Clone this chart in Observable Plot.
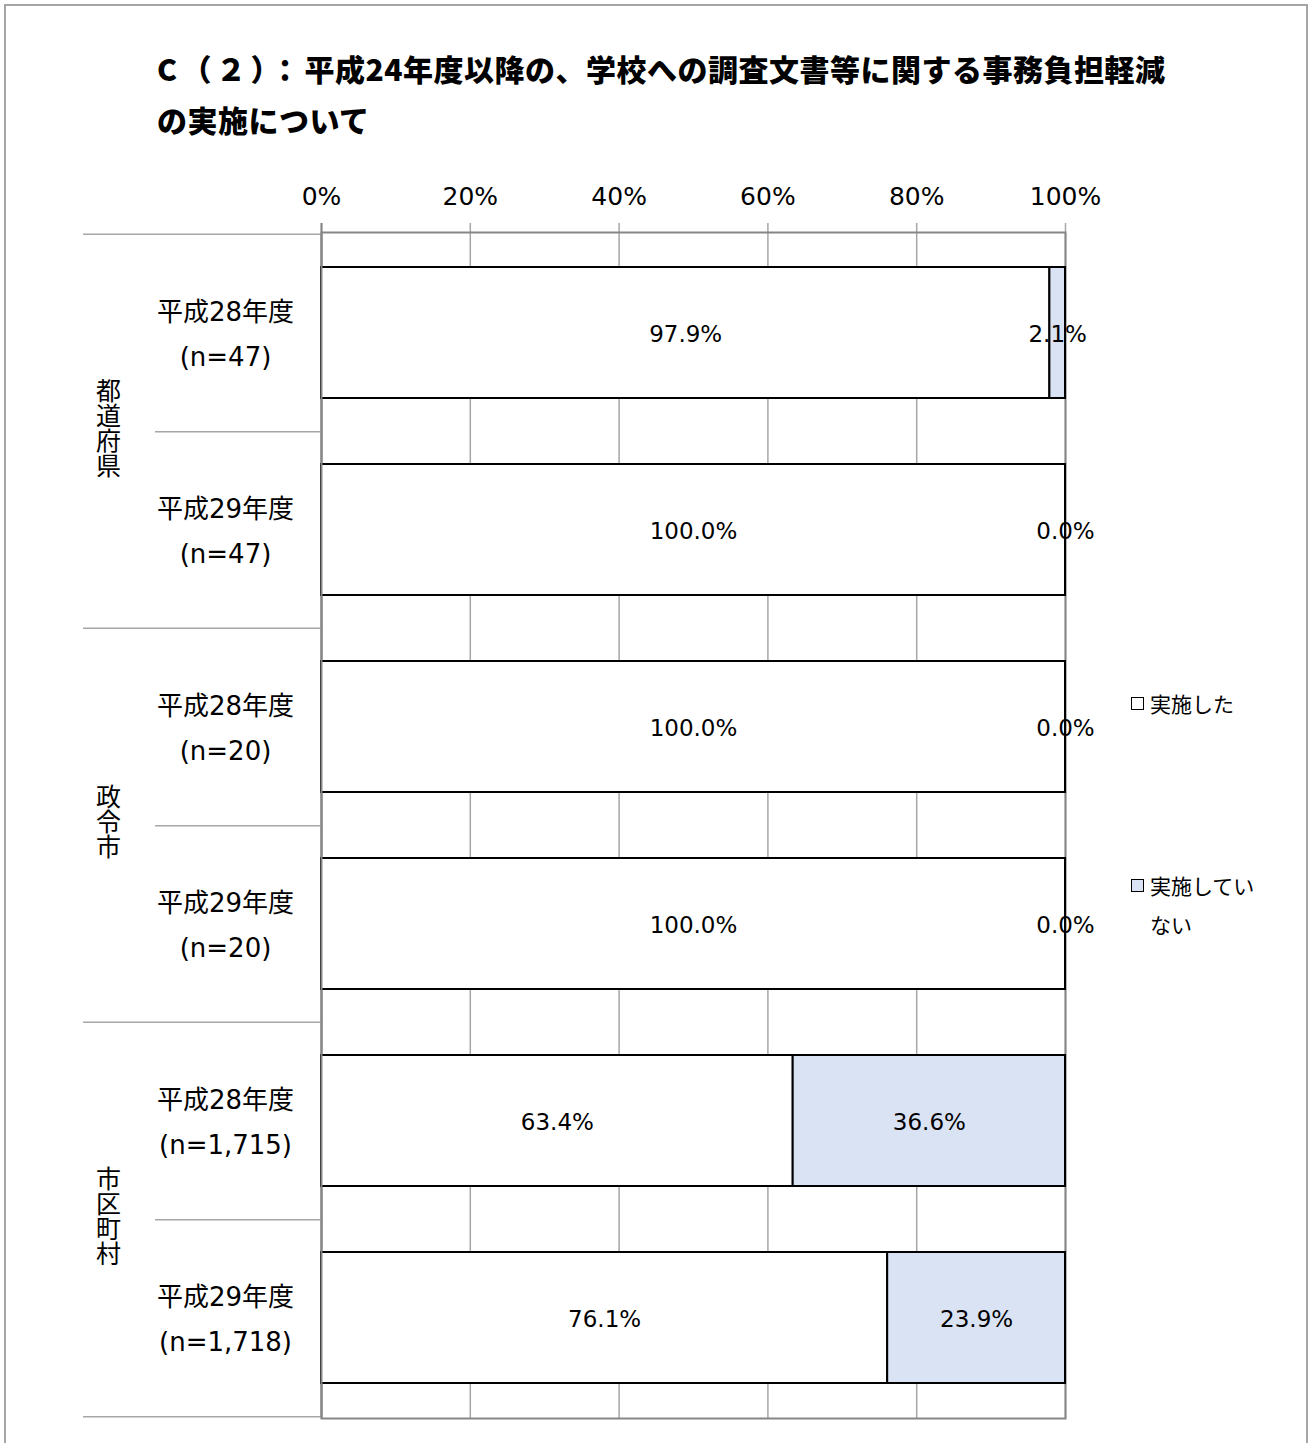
<!DOCTYPE html>
<html><head><meta charset="utf-8">
<script src="https://cdn.jsdelivr.net/npm/d3@7"></script>
<script src="https://cdn.jsdelivr.net/npm/@observablehq/plot@0.6"></script>
<style>
body{margin:0;background:#fff;}
#wrap{position:relative;width:1311px;height:1443px;overflow:hidden;background:#fff;font-family:"DejaVu Sans","Noto Sans CJK JP",sans-serif;}
#border{position:absolute;left:4px;top:4px;width:1300px;height:1500px;border:2px solid #a6a6a6;}
#title{position:absolute;left:157px;top:43px;font-family:"Noto Sans CJK JP",sans-serif;font-weight:900;font-size:30px;line-height:51px;color:#000;white-space:nowrap;letter-spacing:0.5px;}
#title .pre{letter-spacing:4.5px;}
#chart{position:absolute;left:0;top:0;}
.lg{position:absolute;left:1131px;font-family:"Noto Sans CJK JP",sans-serif;font-size:21px;line-height:39px;color:#000;}
.lg .sw{position:absolute;left:0;top:13px;width:11px;height:11px;border:1.5px solid #000;}
.lg .tx{position:absolute;left:19px;top:0;white-space:nowrap;}
</style>
</head><body>
<div id="wrap">
  <div id="border"></div>
  <div id="title"></div>
  <div id="chart"></div>
  <div id="legend"></div>
</div>
<script>
// ---- data ----
const titlePrefix = "C（２）：";
const titleText = ["平成24年度以降の、学校への調査文書等に関する事務負担軽減", "の実施について"];
const groups = ["都道府県", "都道府県", "政令市", "政令市", "市区町村", "市区町村"];
const years = ["平成28年度", "平成29年度", "平成28年度", "平成29年度", "平成28年度", "平成29年度"];
const sizes = ["47", "47", "20", "20", "1,715", "1,718"];
const implemented = [97.9, 100.0, 100.0, 100.0, 63.4, 76.1];
const notImplemented = [2.1, 0.0, 0.0, 0.0, 36.6, 23.9];
const seriesNames = ["実施した", "実施していない"];
const seriesColors = ["#ffffff", "#dae3f3"];
const tickValues = [0, 20, 40, 60, 80, 100];

// ---- layout ----
const W = 1311, H = 1443, mT = 232, mB = 25, mL = 321, mR = 246;
const step = (H - mT - mB) / groups.length;
const font = "'DejaVu Sans','Noto Sans CJK JP',sans-serif";

document.getElementById("title").innerHTML =
  `<span class="pre">${titlePrefix}</span>` + titleText.join("<br>");

const rowKeys = years.map((y, i) => groups[i] + "|" + y + "|" + sizes[i]);
const segs = [];
rowKeys.forEach((k, i) => {
  const vals = [implemented[i], notImplemented[i]];
  let acc = 0;
  vals.forEach((v, j) => {
    segs.push({row: k, series: seriesNames[j], x1: acc, x2: acc + v, mid: acc + v / 2, label: v.toFixed(1) + "%"});
    acc += v;
  });
});
const rows = rowKeys.map((k, i) => ({row: k, label: years[i] + "\n(n=" + sizes[i] + ")"}));
const groupFirst = rows.filter((r, i) => i === 0 || groups[i] !== groups[i - 1])
  .map(r => ({row: r.row, name: r.row.split("|")[0]}));
const lastRow = [rows[rows.length - 1]];

const chart = Plot.plot({
  width: W, height: H,
  marginTop: mT, marginBottom: mB, marginLeft: mL, marginRight: mR,
  style: {fontFamily: font, color: "#000", background: "transparent"},
  x: {domain: [0, 100], axis: null},
  y: {domain: rowKeys, paddingInner: 0.333, paddingOuter: 0.1667, axis: null},
  color: {domain: seriesNames, range: seriesColors},
  marks: [
    Plot.ruleX(tickValues, {stroke: "#a6a6a6", strokeWidth: 1.5, insetTop: -9}),
    Plot.frame({stroke: "#868686", strokeWidth: 2}),
    Plot.axisX(tickValues, {anchor: "top", tickSize: 0, tickPadding: 28, tickFormat: d => d + "%", fontSize: 25, fill: "#000", label: null}),
    // left table separators
    Plot.ruleY(groupFirst, {y: "row", dy: -step / 2, stroke: "#a6a6a6", strokeWidth: 1.5, insetLeft: -(mL - 83), insetRight: W - mL - mR}),
    Plot.ruleY(lastRow, {y: "row", dy: step / 2, stroke: "#a6a6a6", strokeWidth: 1.5, insetLeft: -(mL - 83), insetRight: W - mL - mR}),
    Plot.ruleY(groupFirst, {y: "row", dy: step / 2, stroke: "#a6a6a6", strokeWidth: 1.5, insetLeft: -(mL - 155), insetRight: W - mL - mR}),
    // bars
    Plot.barX(segs, {y: "row", x1: "x1", x2: "x2", fill: "series", stroke: "#000", strokeWidth: 2}),
    Plot.ruleX([0], {stroke: "#868686", strokeWidth: 2, insetTop: -9}),
    // value labels
    Plot.text(segs, {y: "row", x: "mid", text: "label", fontSize: 23, fill: "#000", dy: 2}),
    // category labels
    Plot.text(rows, {y: "row", frameAnchor: "left", dx: -96, dy: -4, text: "label", textAnchor: "middle", lineAnchor: "middle", lineHeight: 1.73, fontSize: 26, fill: "#000"}),
    // group labels (vertical text)
    Plot.text(groupFirst, {y: "row", dy: step / 2 - 12, frameAnchor: "left", dx: -213, text: "name", textAnchor: "middle", fontSize: 25, fill: "#000", className: "vlabel"})
  ]
});
document.getElementById("chart").appendChild(chart);

// turn group labels into vertical (top-to-bottom) text
const groupNames = new Set(groupFirst.map(d => d.name));
d3.select(chart).selectAll("text")
  .filter(function() { return groupNames.has(this.textContent); })
  .attr("writing-mode", "vertical-rl")
  .attr("dy", null)
  .style("text-orientation", "upright")
  .style("font-family", "'Noto Sans CJK JP',sans-serif");

// legend
const legendTops = [684, 866];
const legendTexts = ["実施した", "実施してい<br>ない"];
const lg = document.getElementById("legend");
seriesNames.forEach((s, i) => {
  const d = document.createElement("div");
  d.className = "lg";
  d.style.top = legendTops[i] + "px";
  d.innerHTML = `<div class="sw" style="background:${seriesColors[i]}"></div><div class="tx">${legendTexts[i]}</div>`;
  lg.appendChild(d);
});
</script>
</body></html>
